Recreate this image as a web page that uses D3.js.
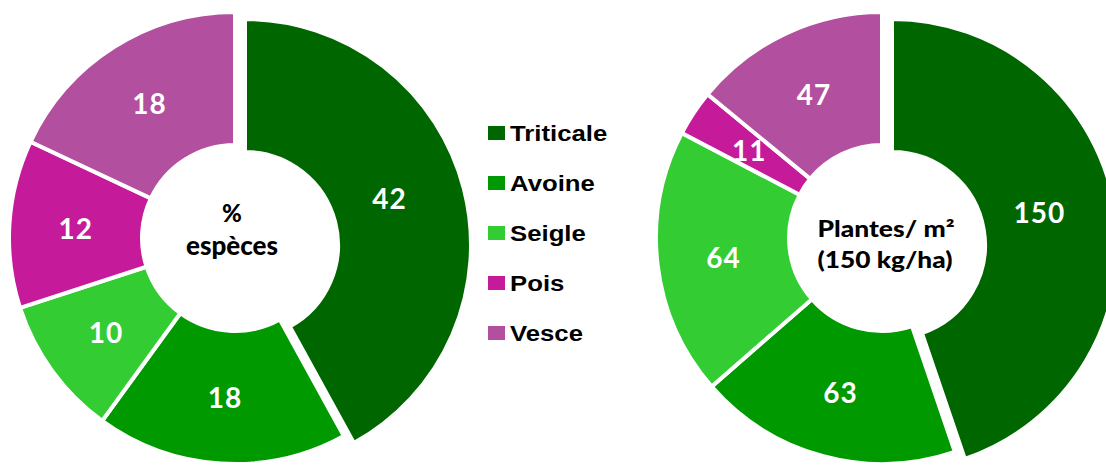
<!DOCTYPE html>
<html>
<head>
<meta charset="utf-8">
<script src="https://cdn.jsdelivr.net/npm/d3@7"></script>
<style>
  html, body { margin: 0; padding: 0; background: #ffffff; }
  svg { display: block; }
</style>
</head>
<body>
<svg id="chart" width="1106" height="466"></svg>
<script>
// ---- data ----
const categories = ["Triticale", "Avoine", "Seigle", "Pois", "Vesce"];
const pctValues = [42, 18, 10, 12, 18];
const plantValues = [150, 63, 64, 11, 47];
const sliceColors = ["#006600", "#009900", "#33CC33", "#C51A9A", "#B24F9E"];
const leftCenterLines = ["%", "espèces"];
const rightCenterLines = ["Plantes/ m²", "(150 kg/ha)"];

// ---- layout constants ----
const W = 1106, H = 466;
const outerR = 226, innerR = 93;
const explode = { dx: 10, dy: 7 };   // first slice (Triticale) pulled out

const svg = d3.select("#chart");
const color = d3.scaleOrdinal().domain(categories).range(sliceColors);

const pie = d3.pie().sort(null).value(d => d.value)
  .startAngle(0).endAngle(2 * Math.PI);
const arc = d3.arc().innerRadius(innerR).outerRadius(outerR);

function donut(values, cx, cy, centerLines, centerStyle) {
  const data = categories.map((c, i) => ({ cat: c, value: values[i] }));
  const arcs = pie(data);
  const g = svg.append("g").attr("transform", `translate(${cx},${cy})`);

  g.selectAll("path.slice")
    .data(arcs)
    .join("path")
    .attr("class", "slice")
    .attr("d", arc)
    .attr("transform", (d, i) => i === 0 ? `translate(${explode.dx},${explode.dy})` : null)
    .attr("fill", d => color(d.data.cat))
    .attr("stroke", "#ffffff")
    .attr("stroke-width", 4)
    .attr("stroke-linejoin", "miter");

  g.selectAll("text.val")
    .data(arcs)
    .join("text")
    .attr("class", "val")
    .attr("x", d => arc.centroid(d)[0])
    .attr("y", d => arc.centroid(d)[1])
    .attr("text-anchor", "middle")
    .attr("dominant-baseline", "central")
    .attr("fill", "#ffffff")
    .style("font-family", "Lato, 'Open Sans', sans-serif")
    .style("font-weight", "bold")
    .style("font-size", "28px")
    .style("letter-spacing", "1px")
    .text(d => d.data.value);

  centerLines.forEach((t, i) => {
    const s = centerStyle[i];
    const txt = g.append("text")
      .attr("x", s.x)
      .attr("y", s.y)
      .attr("text-anchor", "middle")
      .attr("fill", "#000000")
      .style("font-family", "Lato, 'Open Sans', sans-serif")
      .style("font-weight", "900")
      .style("font-size", s.size + "px")
      .text(t);
    if (s.len) txt.attr("textLength", s.len).attr("lengthAdjust", "spacingAndGlyphs");
  });
}

donut(pctValues, 235, 238, leftCenterLines, [
  { x: -3, y: -16, size: 24 },
  { x: -3, y: 17, size: 26, len: 92 }
]);

donut(plantValues, 882, 238, rightCenterLines, [
  { x: 4, y: -1, size: 22, len: 137 },
  { x: 3, y: 30, size: 22, len: 135 }
]);

// ---- legend ----
const legend = svg.append("g").attr("transform", "translate(488,133)");
const rowStep = 50;
const items = legend.selectAll("g.item")
  .data(categories)
  .join("g")
  .attr("class", "item")
  .attr("transform", (d, i) => `translate(0,${i * rowStep})`);

items.append("rect")
  .attr("x", 0).attr("y", -7)
  .attr("width", 17).attr("height", 14)
  .attr("fill", d => color(d));

items.append("text")
  .attr("transform", "translate(22,8) scale(1.17,1)")
  .attr("fill", "#000000")
  .style("font-family", "'Liberation Sans', Arial, sans-serif")
  .style("font-weight", "bold")
  .style("font-size", "22px")
  .text(d => d);
</script>
</body>
</html>
